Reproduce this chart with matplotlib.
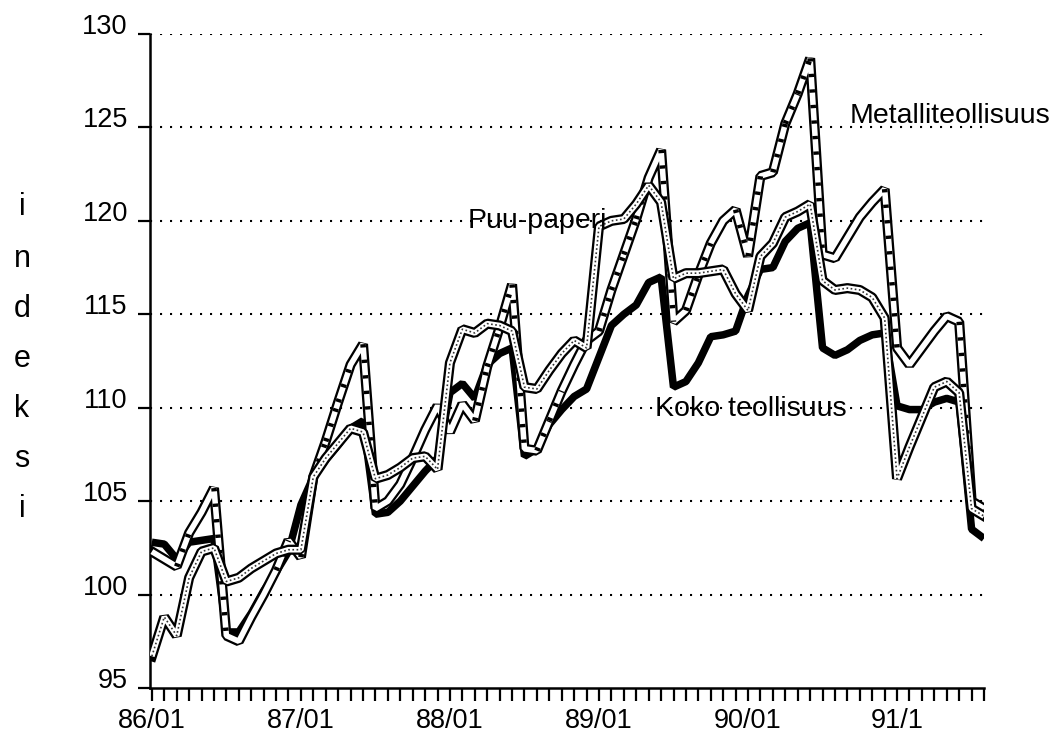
import matplotlib
matplotlib.use("Agg")
import matplotlib.pyplot as plt

# ---- data (monthly index, 86/01 .. 91/08) ----
koko = [102.8, 102.7, 101.9, 102.8, 102.9, 103.0, 98.0, 98.0, 99.0, 100.2, 101.2, 102.3,
        104.8, 106.3, 107.2, 108.0, 108.9, 109.3, 104.3, 104.4, 105.0, 105.8, 106.6, 107.3,
        110.8, 111.3, 110.5, 112.3, 112.9, 113.2, 107.4, 107.8, 109.1, 109.9, 110.6, 111.0,
        112.7, 114.4, 115.0, 115.5, 116.7, 117.0, 111.1, 111.4, 112.4, 113.8, 113.9, 114.1,
        116.0, 117.4, 117.5, 118.9, 119.6, 119.9, 113.2, 112.8, 113.1, 113.6, 113.9, 114.0,
        110.1, 109.9, 109.9, 110.3, 110.5, 110.3, 103.5, 103.0]

metalli = [102.3, 101.9, 101.5, 103.3, 104.4, 105.7, 97.8, 97.5, 98.8, 100.0, 101.3, 102.9,
           102.0, 106.3, 108.2, 110.3, 112.3, 113.4, 104.6, 105.0, 105.9, 107.3, 108.8, 110.1,
           108.7, 110.2, 109.3, 112.2, 114.3, 116.6, 107.8, 107.7, 109.3, 110.9, 112.3, 113.6,
           114.1, 116.3, 118.2, 120.1, 122.3, 123.8, 114.6, 115.2, 117.1, 118.8, 120.0, 120.6,
           118.1, 122.4, 122.6, 125.2, 126.8, 128.7, 118.2, 118.0, 119.1, 120.2, 121.0, 121.7,
           113.2, 112.3, 113.2, 114.1, 114.9, 114.6, 105.0, 104.6]

puu = [96.7, 98.8, 97.8, 100.9, 102.3, 102.5, 100.7, 100.9, 101.4, 101.8, 102.2, 102.4,
       102.4, 106.3, 107.3, 108.1, 108.9, 108.7, 106.2, 106.4, 106.8, 107.3, 107.4, 106.7,
       112.4, 114.2, 114.0, 114.5, 114.4, 114.1, 111.1, 111.0, 112.0, 112.9, 113.6, 113.2,
       119.7, 120.0, 120.1, 120.9, 121.9, 121.0, 116.9, 117.2, 117.2, 117.3, 117.4, 116.1,
       115.2, 118.1, 118.8, 120.2, 120.5, 120.9, 116.8, 116.3, 116.4, 116.3, 115.9, 114.8,
       106.2, 107.9, 109.5, 111.1, 111.4, 110.8, 104.6, 104.2]

months = list(range(len(koko)))
xtick_pos = [0, 12, 24, 36, 48, 60]
xtick_labels = ["86/01", "87/01", "88/01", "89/01", "90/01", "91/1"]
yticks = [95, 100, 105, 110, 115, 120, 125, 130]
gridvals = [100, 105, 110, 115, 120, 125, 130]
ylabel_letters = ["i", "n", "d", "e", "k", "s", "i"]

plt.rcParams['font.family'] = ['Liberation Sans', 'DejaVu Sans']

W, H = 1062, 734
fig = plt.figure(figsize=(W / 100, H / 100), dpi=100)
ax = fig.add_axes([150 / W, 1 - 688 / H, (984 - 150) / W, (688 - 34) / H])
ax.set_xlim(-0.15, 67.0)
ax.set_ylim(95, 130)

# dotted gridlines
for g in gridvals:
    ax.plot([-0.15, 67.0], [g, g], color='black', lw=1.5,
            linestyle=(0, (1, 3.8)), zorder=1, solid_capstyle='butt')

JOIN = 'bevel'
OUTER = 7.3
INNER = 4.0

# Koko teollisuus: thick black
ax.plot(months, koko, color='black', lw=5.4, solid_joinstyle=JOIN,
        solid_capstyle='butt', zorder=3)

# Metalliteollisuus: hollow with hatched steep segments
ax.plot(months, metalli, color='black', lw=OUTER, solid_joinstyle=JOIN,
        solid_capstyle='projecting', zorder=4)
ax.plot(months, metalli, color='white', lw=INNER, solid_joinstyle=JOIN,
        solid_capstyle='butt', zorder=4)
for i in range(len(metalli) - 1):
    if abs(metalli[i + 1] - metalli[i]) > 1.5:
        ax.plot([months[i], months[i + 1]], [metalli[i], metalli[i + 1]],
                color='black', lw=INNER, linestyle=(0, (0.6, 2.2)),
                dash_capstyle='butt', zorder=4)

# Puu-paperi: hollow with stipple
ax.plot(months, puu, color='black', lw=OUTER, solid_joinstyle=JOIN,
        solid_capstyle='projecting', zorder=5)
ax.plot(months, puu, color='white', lw=INNER, solid_joinstyle=JOIN,
        solid_capstyle='butt', zorder=5)
ax.plot(months, puu, color='0.2', lw=1.2, linestyle=(0, (1, 1.5)),
        dash_capstyle='butt', zorder=5)

# axes styling
for s in ['top', 'right']:
    ax.spines[s].set_visible(False)
ax.spines['left'].set_linewidth(1.8)
ax.spines['bottom'].set_linewidth(1.8)
ax.set_yticks(yticks)
ax.set_yticklabels([str(v) for v in yticks])
ax.set_xticks(months, minor=True)
ax.set_xticks(xtick_pos)
ax.set_xticklabels(xtick_labels)
ax.tick_params(axis='y', direction='out', length=9, width=1.6, pad=7,
               labelsize=19.5)
ax.tick_params(axis='x', which='both', direction='out', length=9.5, width=1.6,
               pad=5, labelsize=19.5)
for lab in ax.get_yticklabels():
    lab.set_verticalalignment('baseline')

# series labels
ax.text(56.2, 125.25, "Metalliteollisuus", fontsize=20.5, ha='left', va='baseline', zorder=6)
ax.text(25.4, 119.6, "Puu-paperi", fontsize=20.5, ha='left', va='baseline', zorder=6)
ax.text(40.5, 109.53, "Koko teollisuus", fontsize=20.5, ha='left', va='baseline', zorder=6)

# vertical y label, one letter per line
base_y = [215, 266.7, 316.7, 366.7, 416.7, 466.7, 516.7]
for ch, by in zip(ylabel_letters, base_y):
    fig.text(22 / W, 1 - by / H, ch, fontsize=22, ha='center', va='baseline')

fig.savefig("out.png", dpi=100)
